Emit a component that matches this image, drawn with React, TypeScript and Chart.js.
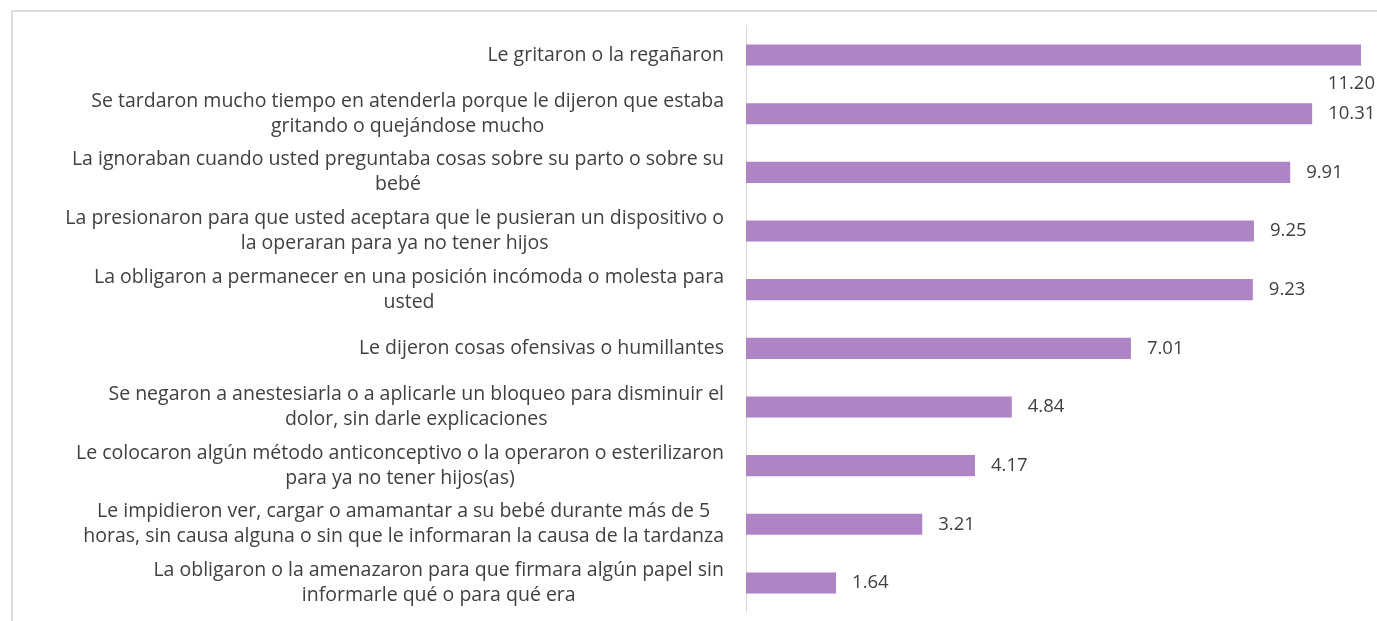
import React, { useEffect, useRef } from "react";
import { Chart, registerables } from "chart.js";

Chart.register(...registerables);

const categories: string[][] = [
  ["Le gritaron o la regañaron"],
  ["Se tardaron mucho tiempo en atenderla porque le dijeron que estaba", "gritando o quejándose mucho"],
  ["La ignoraban cuando usted preguntaba cosas sobre su parto o sobre su", "bebé"],
  ["La presionaron para que usted aceptara que le pusieran un dispositivo o", "la operaran para ya no tener hijos"],
  ["La obligaron a permanecer en una posición incómoda o molesta para", "usted"],
  ["Le dijeron cosas ofensivas o humillantes"],
  ["Se negaron a anestesiarla o a aplicarle un bloqueo para disminuir el", "dolor, sin darle explicaciones"],
  ["Le colocaron algún método anticonceptivo o la operaron o esterilizaron", "para ya no tener hijos(as)"],
  ["Le impidieron ver, cargar o amamantar a su bebé durante más de 5", "horas, sin causa alguna o sin que le informaran la causa de la tardanza"],
  ["La obligaron o la amenazaron para que firmara algún papel sin", "informarle qué o para qué era"],
];

const values: number[] = [11.2, 10.31, 9.91, 9.25, 9.23, 7.01, 4.84, 4.17, 3.21, 1.64];

const FONT = "19.5px 'Open Sans', sans-serif";
const VALUE_FONT = "18.5px 'Open Sans', sans-serif";
const TEXT_COLOR = "#404040";
const BAR_COLOR = "#AE84C5";

const labelPlugin = {
  id: "customLabels",
  afterDraw(chart: any) {
    const ctx = chart.ctx;
    const yScale = chart.scales.y;
    const meta = chart.getDatasetMeta(0);
    ctx.save();
    ctx.font = FONT;
    ctx.fillStyle = TEXT_COLOR;
    ctx.textBaseline = "middle";
    const lineH = 25;
    const rightEdge = chart.chartArea.left - 22;
    categories.forEach((lines, i) => {
      const y = yScale.getPixelForValue(i);
      const maxW = Math.max(...lines.map((l) => ctx.measureText(l).width));
      const cx = rightEdge - maxW / 2;
      const top = y - ((lines.length - 1) * lineH) / 2;
      ctx.textAlign = "center";
      lines.forEach((l, j) => ctx.fillText(l, cx, top + j * lineH));
    });
    // data labels
    ctx.font = VALUE_FONT;
    meta.data.forEach((bar: any, i: number) => {
      const txt = values[i].toFixed(2);
      const w = ctx.measureText(txt).width;
      const x = bar.x + 16;
      if (x + w > chart.width - 1) {
        ctx.textAlign = "right";
        ctx.fillText(txt, chart.width - 2, bar.y + 29);
      } else {
        ctx.textAlign = "left";
        ctx.fillText(txt, x, bar.y);
      }
    });
    ctx.restore();
  },
};

export default function App() {
  const ref = useRef<HTMLCanvasElement | null>(null);
  useEffect(() => {
    if (!ref.current) return;
    const chart = new Chart(ref.current, {
      type: "bar",
      data: {
        labels: categories.map((c) => c.join(" ")),
        datasets: [
          {
            data: values,
            backgroundColor: BAR_COLOR,
            borderWidth: 0,
            barPercentage: 0.36,
            categoryPercentage: 1,
          },
        ],
      },
      options: {
        indexAxis: "y",
        animation: false,
        responsive: false,
        maintainAspectRatio: false,
        layout: { padding: { top: 25.7, bottom: 8.7, right: 5, left: 0 } },
        plugins: { legend: { display: false }, tooltip: { enabled: false } },
        scales: {
          x: { display: false, min: 0, max: 11.4 },
          y: {
            afterFit(scale: any) {
              scale.width = 746;
            },
            ticks: { display: false },
            grid: { display: false, drawTicks: false },
            border: { display: true, color: "#d9d9d9", width: 1 },
          },
        },
      },
      plugins: [labelPlugin],
    });
    return () => chart.destroy();
  }, []);
  return (
    <div style={{ position: "fixed", left: 0, top: 0, width: 1377, height: 621, overflow: "hidden", background: "#fff" }}>
      <div
        style={{
          position: "absolute",
          left: 11,
          top: 10,
          width: 1500,
          height: 800,
          borderTop: "2px solid #dedede",
          borderLeft: "2px solid #dedede",
        }}
      />
      <canvas ref={ref} width={1377} height={621} style={{ position: "absolute", left: 0, top: 0 }} />
    </div>
  );
}
